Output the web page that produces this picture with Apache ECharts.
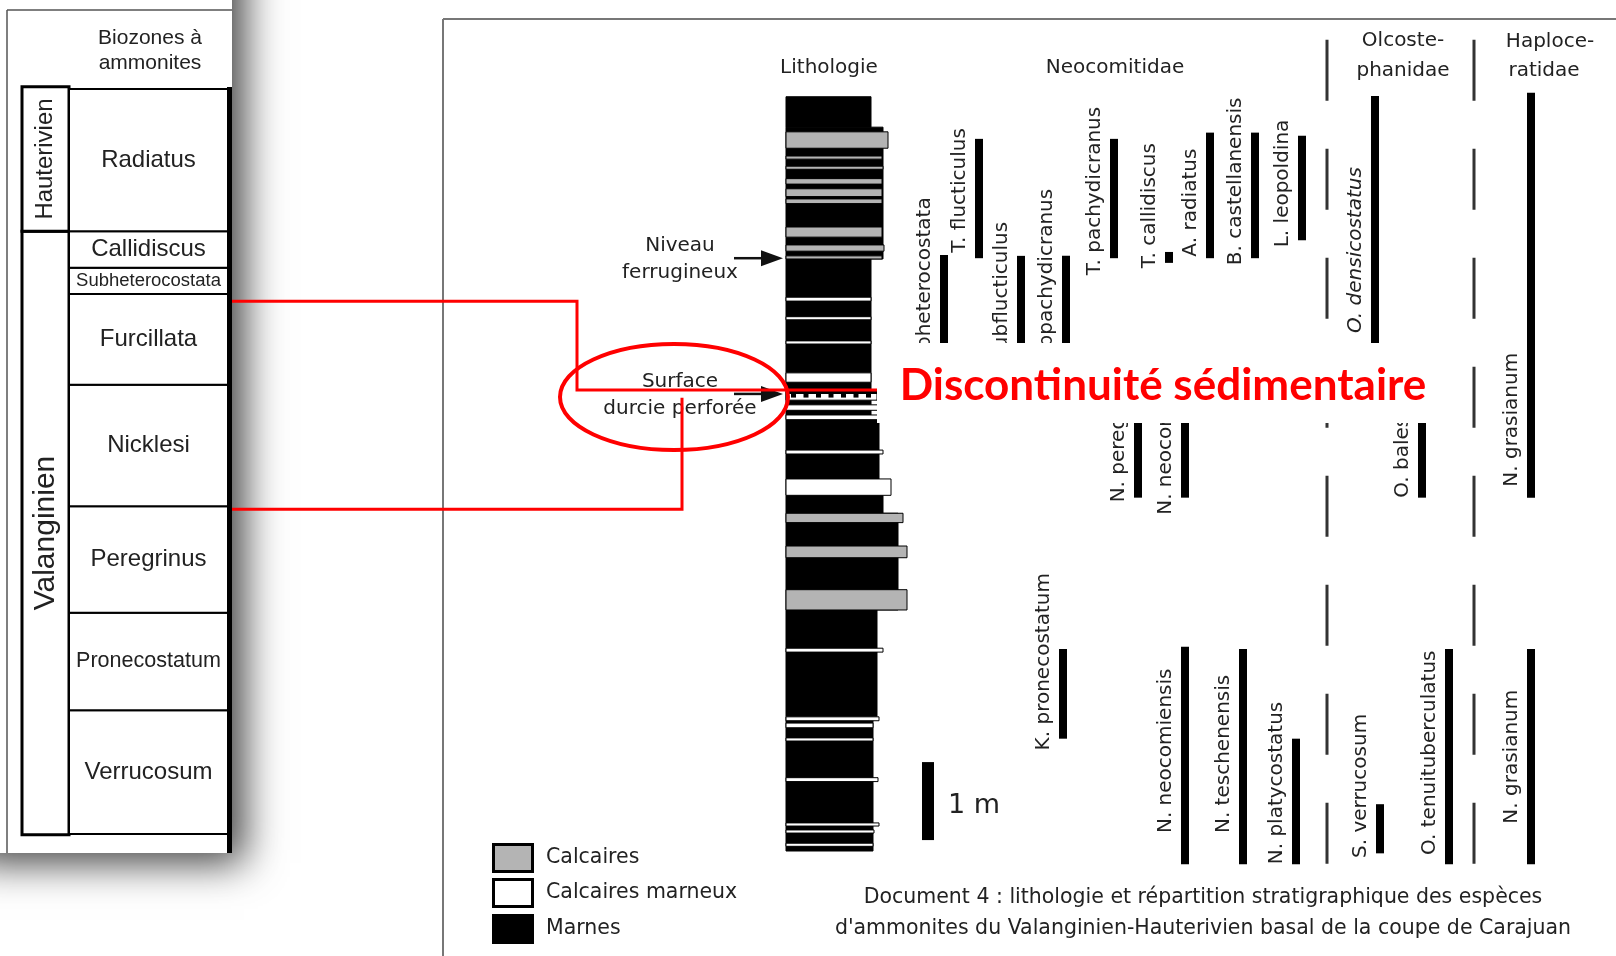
<!DOCTYPE html>
<html>
<head>
<meta charset="utf-8">
<script src="https://cdn.jsdelivr.net/npm/echarts@6/dist/echarts.min.js"></script>
<style>
html,body{margin:0;padding:0;background:#fff;}
#chart{width:1616px;height:956px;}
</style>
</head>
<body>
<div id="chart"></div>
<script>
// ================= DATA =================
// Left panel : ammonite biozones (relative scale, 0 = base of Verrucosum, 100 = top of Radiatus)
const zoneNames  = ['Verrucosum','Pronecostatum','Peregrinus','Nicklesi','Furcillata','Subheterocostata','Callidiscus','Radiatus'];
const zoneBase   = [0, 16.6, 29.7, 44.0, 60.3, 72.5, 76.0, 80.9];
const zoneTop    = [16.6, 29.7, 44.0, 60.3, 72.5, 76.0, 80.9, 100];
const stageNames = ['Valanginien','Hauterivien'];
const stageBase  = [-0.1, 80.9];
const stageTop   = [80.9, 100.3];

// Lithology : [base (m), top (m), weathering relief]
const marnes = [[9.28,9.67,85],[7.59,9.28,97],[5.53,7.59,85],[4.56,5.53,93],[4.33,4.56,97],[3.09,4.33,112],[1.72,3.09,91],[0,1.72,87]];
const calcaires = [[9.01,9.22,102],[8.87,8.91,96],[8.74,8.78,97],[8.55,8.62,96],[8.39,8.49,96],[8.30,8.36,96],[7.87,8.00,96],[7.69,7.77,98],[7.59,7.63,96],[4.21,4.33,117],[3.76,3.91,121],[3.09,3.35,121]];
const calcairesMarneux = [[7.05,7.10,85],[6.81,6.85,85],[6.50,6.54,85],[6.01,6.13,85],[5.65,5.72,95],[5.53,5.59,95],[5.09,5.14,97],[4.56,4.77,105],[2.55,2.60,97],[1.67,1.72,93],[1.58,1.64,87],[1.41,1.45,87],[0.89,0.94,92],[0.32,0.36,93],[0.23,0.27,88],[0.06,0.10,87]];
const surfaceDurcie = [[5.78,5.89,91]];
const arrowLevel  = [7.60, 5.86];
const arrowLabels = [['Niveau','ferrugineux'],['Surface','durcie perforée']];
const scaleBar    = [0.14, 1.14];

// Stratigraphic ranges of the ammonite species (m)
const taxa = ['T. subheterocostata','T. flucticulus','T. subflucticulus','T. subpachydicranus','T. pachydicranus','T. callidiscus','A. radiatus','B. castellanensis','L. leopoldina',
              'N. peregrinus','N. neocomiensis','O. balestrai','O. densicostatus','N. grasianum',
              'K. pronecostatum','N. neocomiensis','N. teschenensis','N. platycostatus','S. verrucosum','O. tenuituberculatus','N. grasianum'];
const taxonColumn = [0.4, 3.9, 8.1, 12.6, 17.4, 22.9, 27.0, 31.5, 36.2, 19.8, 24.5, 48.2, 43.5, 59.1, 12.3, 24.5, 30.3, 35.6, 44.0, 50.9, 59.1];
const rangeTop  = [7.64, 9.13, 7.63, 7.63, 9.13, 7.68, 9.21, 9.21, 9.17, 5.78, 5.78, 5.78, 9.68, 9.72, 2.59, 2.62, 2.59, 1.44, 0.60, 2.59, 2.59];
const rangeBase = [5.85, 7.60, 6.01, 5.87, 7.60, 7.54, 7.60, 7.60, 7.83, 4.53, 4.53, 4.53, 5.60, 4.53, 1.44, -0.17, -0.17, -0.17, -0.03, -0.17, -0.17];
const labelBase = [5.85, 7.67, 6.01, 5.87, 7.38, 7.47, 7.62, 7.51, 7.74, 4.47, 4.31, 4.53, 6.64, 4.67, 1.29, 0.23, 0.23, -0.17, -0.09, -0.05, 0.35];
const familyDividers = [38.7, 53.4];
const dividerRange = [10.4, -0.17];

// Discontinuity : missing zones (left scale) -> level in the section (m)
const discontinuityZone  = [71.5, 43.6];
const discontinuityLevel = [5.91, 5.81];

// ================= CHART =================
const chart = echarts.init(document.getElementById('chart'), null, {width:1616, height:956});
const Y_MIN = -1.2, Y_MAX = 10.6;
const mctx = document.createElement('canvas').getContext('2d');
function fitSize(text, family, maxSize, maxWidth){
  mctx.font = maxSize + 'px "' + family + '"';
  const w = mctx.measureText(text).width;
  return w > maxWidth ? maxSize * maxWidth / w : maxSize;
}
const TXT = '#222';
const RF = 'DejaVu Sans';

function renderStage(params, api){
  const cs = params.coordSys, i = api.value(0);
  const yb = api.coord([0, api.value(1)])[1], yt = api.coord([0, api.value(2)])[1];
  const x0 = cs.x, x1 = cs.x + 47;
  const fs = Math.min(30, (yb - yt - 20) / 5.2);
  return {type:'group', children:[
    {type:'rect', shape:{x:x0, y:yt, width:x1-x0, height:yb-yt}, style:{fill:'#fff', stroke:'#000', lineWidth:3}},
    {type:'text', x:(x0+x1)/2, y:(yt+yb)/2, rotation:Math.PI/2,
     style:{text:stageNames[i], fontFamily:'Liberation Sans', fontSize:fs, fill:TXT, align:'center', verticalAlign:'middle'}}
  ]};
}
function renderZone(params, api){
  const cs = params.coordSys, i = api.value(0);
  const yb = api.coord([0, api.value(1)])[1], yt = api.coord([0, api.value(2)])[1];
  const x0 = cs.x + 47, x1 = cs.x + cs.width;
  const fs = fitSize(zoneNames[i], 'Liberation Sans', 24, 145);
  return {type:'group', children:[
    {type:'rect', shape:{x:x0, y:yt, width:x1-x0, height:yb-yt}, style:{fill:'#fff', stroke:'#000', lineWidth:2}},
    {type:'text', x:(x0+x1)/2, y:(yt+yb)/2,
     style:{text:zoneNames[i], fontFamily:'Liberation Sans', fontSize:fs, fill:TXT, align:'center', verticalAlign:'middle'}}
  ]};
}
function bedRenderer(fill){
  return function(params, api){
    const p0 = api.coord([0, api.value(1)]), p1 = api.coord([api.value(2), api.value(0)]);
    return {type:'rect', shape:{x:p0[0], y:p0[1], width:p1[0]-p0[0], height:p1[1]-p0[1]},
            style:{fill:fill, stroke:'#000', lineWidth:1}};
  };
}
function renderHardground(params, api){
  const p0 = api.coord([0, api.value(1)]), p1 = api.coord([api.value(2), api.value(0)]);
  const x = p0[0], y = p0[1], w = p1[0]-x, h = p1[1]-y;
  const ch = [
    {type:'rect', shape:{x, y, width:w, height:h}, style:{fill:'#fff', stroke:'#000', lineWidth:1}},
    {type:'rect', shape:{x, y, width:w, height:2.5}, style:{fill:'#000'}}
  ];
  for (let tx = x + 5; tx < x + w - 4; tx += 12.5) {
    ch.push({type:'rect', shape:{x:tx, y:y+2, width:5, height:4}, style:{fill:'#000'}});
  }
  return {type:'group', children:ch};
}
function renderArrow(params, api){
  const i = api.value(1);
  const p = api.coord([0, api.value(0)]);
  const tip = p[0] - 3, y = p[1];
  return {type:'group', children:[
    {type:'line', shape:{x1:tip-49, y1:y, x2:tip-18, y2:y}, style:{stroke:'#111', lineWidth:2.5}},
    {type:'polygon', shape:{points:[[tip,y],[tip-22,y-8],[tip-22,y+8]]}, style:{fill:'#111'}},
    {type:'text', x:tip-103, y:y-12, style:{text:arrowLabels[i][0], fontFamily:RF, fontSize:20, fill:TXT, align:'center', verticalAlign:'middle'}},
    {type:'text', x:tip-103, y:y+15, style:{text:arrowLabels[i][1], fontFamily:RF, fontSize:20, fill:TXT, align:'center', verticalAlign:'middle'}}
  ]};
}
function renderScale(params, api){
  const a = api.coord([142, api.value(1)]), b = api.coord([142, api.value(0)]);
  return {type:'group', children:[
    {type:'rect', shape:{x:a[0]-6, y:a[1], width:12, height:b[1]-a[1]}, style:{fill:'#000'}},
    {type:'text', x:a[0]+20, y:(a[1]+b[1])/2+5, style:{text:'1 m', fontFamily:RF, fontSize:27, fill:TXT, align:'left', verticalAlign:'middle'}}
  ]};
}
function renderTaxon(params, api){
  const col = api.value(0), idx = api.value(4);
  const pt = api.coord([col, api.value(2)]), pb = api.coord([col, api.value(1)]);
  const pl = api.coord([col, api.value(3)]);
  const name = taxa[idx];
  return {type:'group', children:[
    {type:'rect', shape:{x:pt[0]-4, y:pt[1], width:8, height:pb[1]-pt[1]}, style:{fill:'#000'}},
    {type:'text', x:pt[0]-19, y:pl[1], rotation:Math.PI/2,
     style:{text:name, fontFamily:RF, fontSize:20, fontStyle:(name === 'O. densicostatus' ? 'italic' : 'normal'),
            fill:TXT, align:'left', verticalAlign:'middle'}}
  ]};
}
function renderDivider(params, api){
  const a = api.coord([api.value(0), api.value(1)]), b = api.coord([api.value(0), api.value(2)]);
  return {type:'line', shape:{x1:a[0], y1:a[1], x2:b[0], y2:b[1]}, style:{stroke:'#333', lineWidth:3, lineDash:[61,48]}};
}

const hiddenValue = (min, max) => ({type:'value', min, max, show:false});

chart.setOption({
  animation:false,
  backgroundColor:'#fff',
  grid:[
    {left:22, top:89, width:206, height:745},
    {left:786, top:24.2, width:200, height:920.4},
    {left:940, top:24.2, width:600, height:920.4}
  ],
  xAxis:[
    Object.assign(hiddenValue(0, 1), {gridIndex:0}),
    Object.assign(hiddenValue(0, 200), {gridIndex:1}),
    Object.assign(hiddenValue(0, 60), {gridIndex:2})
  ],
  yAxis:[
    Object.assign(hiddenValue(0, 100), {gridIndex:0}),
    Object.assign(hiddenValue(Y_MIN, Y_MAX), {gridIndex:1}),
    Object.assign(hiddenValue(Y_MIN, Y_MAX), {gridIndex:2})
  ],
  series:[
    {name:'Étages', type:'custom', xAxisIndex:0, yAxisIndex:0, renderItem:renderStage,
     data:stageNames.map((s,i)=>[i, stageBase[i], stageTop[i]])},
    {name:'Biozones', type:'custom', xAxisIndex:0, yAxisIndex:0, renderItem:renderZone,
     data:zoneNames.map((s,i)=>[i, zoneBase[i], zoneTop[i]])},
    {name:'Marnes', type:'custom', xAxisIndex:1, yAxisIndex:1, renderItem:bedRenderer('#000'), data:marnes},
    {name:'Calcaires', type:'custom', xAxisIndex:1, yAxisIndex:1, renderItem:bedRenderer('#b4b4b4'), data:calcaires},
    {name:'Calcaires marneux', type:'custom', xAxisIndex:1, yAxisIndex:1, renderItem:bedRenderer('#fff'), data:calcairesMarneux},
    {name:'Surface durcie', type:'custom', xAxisIndex:1, yAxisIndex:1, renderItem:renderHardground, data:surfaceDurcie},
    {name:'Repères', type:'custom', xAxisIndex:1, yAxisIndex:1, renderItem:renderArrow, data:arrowLevel.map((v,i)=>[v,i])},
    {name:'Échelle', type:'custom', xAxisIndex:1, yAxisIndex:1, renderItem:renderScale, data:[scaleBar]},
    {name:'Familles', type:'custom', xAxisIndex:2, yAxisIndex:2, renderItem:renderDivider,
     data:familyDividers.map(x=>[x, dividerRange[0], dividerRange[1]])},
    {name:'Espèces', type:'custom', xAxisIndex:2, yAxisIndex:2, renderItem:renderTaxon,
     data:taxa.map((t,i)=>[taxonColumn[i], rangeBase[i], rangeTop[i], labelBase[i], i])}
  ]
});

// ---------- annotations / frame ----------
const zp = v => chart.convertToPixel({gridIndex:0}, [0, v])[1];
const lp = v => chart.convertToPixel({gridIndex:1}, [0, v])[1];
const colRight = chart.convertToPixel({gridIndex:1}, [91, 0])[0];
const y1 = zp(discontinuityZone[0]), y2 = zp(discontinuityZone[1]);
const s1 = lp(discontinuityLevel[0]), s2 = lp(discontinuityLevel[1]);

function txt(x, y, text, size, opts){
  return Object.assign({type:'text', x, y, z:5, style:Object.assign({text, fontFamily:RF, fontSize:size, fill:TXT, align:'center', verticalAlign:'middle'}, opts||{})});
}
const legendItems = [['Calcaires','#b4b4b4'],['Calcaires marneux','#fff'],['Marnes','#000']];
const legendY = [843, 878, 914];

const graphics = [
  // left panel background with drop shadow
  {type:'rect', z:0, shape:{x:-40, y:-60, width:272, height:913},
   style:{fill:'#fff', shadowBlur:38, shadowColor:'rgba(0,0,0,0.75)', shadowOffsetX:12, shadowOffsetY:10}},
  {type:'line', z:5, shape:{x1:7, y1:10, x2:232, y2:10}, style:{stroke:'#555', lineWidth:1.5}},
  {type:'line', z:5, shape:{x1:7, y1:10, x2:7, y2:853}, style:{stroke:'#555', lineWidth:1.5}},
  {type:'rect', z:5, shape:{x:227, y:87, width:5, height:766}, style:{fill:'#000'}},
  txt(150, 38, 'Biozones à', 21, {fontFamily:'Liberation Sans'}),
  txt(150, 63, 'ammonites', 21, {fontFamily:'Liberation Sans'}),
  // right panel frame
  {type:'line', z:1, shape:{x1:443, y1:19, x2:1616, y2:19}, style:{stroke:'#777', lineWidth:2}},
  {type:'line', z:1, shape:{x1:443, y1:19, x2:443, y2:956}, style:{stroke:'#777', lineWidth:2}},
  // headers
  txt(829, 68, 'Lithologie', 20),
  txt(1115, 68, 'Neocomitidae', 20),
  txt(1403, 41, 'Olcoste-', 20),
  txt(1403, 71, 'phanidae', 20),
  txt(1550, 42, 'Haploce-', 20),
  txt(1544, 71, 'ratidae', 20),
  // caption
  txt(1203, 898, 'Document 4 : lithologie et répartition stratigraphique des espèces', 20.5),
  txt(1203, 929, "d'ammonites du Valanginien-Hauterivien basal de la coupe de Carajuan", 20.5)
];
legendItems.forEach((it, i) => {
  graphics.push({type:'rect', z:5, shape:{x:493.5, y:legendY[i]+1.5, width:39, height:27}, style:{fill:it[1], stroke:'#000', lineWidth:3}});
  graphics.push(txt(546, legendY[i]+15, it[0], 20.5, {align:'left'}));
});
// discontinuity overlay
graphics.push(
  {type:'rect', z:100, shape:{x:colRight, y:343, width:1440-colRight, height:80}, style:{fill:'#fff'}},
  {type:'text', z:101, x:1163, y:386, style:{text:'Discontinuité sédimentaire', fontFamily:'Lato', fontWeight:'bold', fontSize:44, fill:'#ff0000', align:'center', verticalAlign:'middle'}},
  {type:'polyline', z:102, shape:{points:[[232,y1],[577,y1],[577,s1],[colRight,s1]]}, style:{stroke:'#ff0000', lineWidth:3, fill:null}},
  {type:'polyline', z:102, shape:{points:[[232,y2],[682,y2],[682,s2]]}, style:{stroke:'#ff0000', lineWidth:3, fill:null}},
  {type:'ellipse', z:102, shape:{cx:674, cy:397, rx:114, ry:53}, style:{fill:null, stroke:'#ff0000', lineWidth:4}}
);
chart.setOption({graphic:{elements:graphics}});
</script>
</body>
</html>
